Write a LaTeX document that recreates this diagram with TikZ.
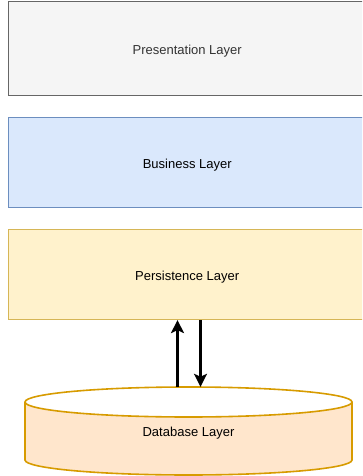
\documentclass[tikz,border=0pt]{standalone}
\usepackage{fontspec}
\setmainfont{Liberation Sans}
\usetikzlibrary{arrows.meta}
\definecolor{presFill}{HTML}{F5F5F5}
\definecolor{presLine}{HTML}{666666}
\definecolor{presText}{HTML}{333333}
\definecolor{busFill}{HTML}{DAE8FC}
\definecolor{busLine}{HTML}{6C8EBF}
\definecolor{perFill}{HTML}{FFF2CC}
\definecolor{perLine}{HTML}{D6B656}
\definecolor{dbFill}{HTML}{FFE6CC}
\definecolor{dbLine}{HTML}{D79B00}
\tikzset{
  label font/.style={font=\fontsize{13}{15}\selectfont, text height=12pt, text depth=0pt},
  layer/.style={draw, line width=1pt, minimum width=358pt, minimum height=90pt,
    inner sep=0pt, label font},
  flow/.style={line width=2.6pt, -{Stealth[length=13pt,width=13pt,inset=3pt]}},
}
\begin{document}
\begin{tikzpicture}[x=1pt,y=-1pt]
\useasboundingbox (0,0) rectangle (362,476);
\clip (0,0) rectangle (362,476);
% stacked layers
\node[layer, minimum height=94pt, fill=presFill, draw=presLine, text=presText] (pres) at (187.2,48.2) {Presentation Layer};
\node[layer, fill=busFill, draw=busLine] (bus) at (187.2,162.3) {Business Layer};
\node[layer, fill=perFill, draw=perLine] (per) at (187.2,274.6) {Persistence Layer};
% database cylinder
\fill[dbFill] (25,402) -- (25,460) arc[start angle=180, end angle=360, x radius=163.5, y radius=-15]
  -- (352,402) arc[start angle=0, end angle=180, x radius=163.5, y radius=15] -- cycle;
\draw[dbLine, line width=1.6pt] (25,402) -- (25,460) arc[start angle=180, end angle=360, x radius=163.5, y radius=-15]
  -- (352,402);
\draw[dbLine, line width=1.6pt] (188.5,402) ellipse[x radius=163.5, y radius=15];
\node[inner sep=0pt, minimum width=327pt, minimum height=88pt] (db) at (188.5,431) {};
\node[label font, inner sep=0pt] (dbtext) at (188.5,430.5) {Database Layer};
% read / write flows
\coordinate (upx) at (177.5,0);
\coordinate (downx) at (200.5,0);
\draw[flow] (db.north -| upx) -- (per.south -| upx);
\draw[flow] (per.south -| downx) -- (db.north -| downx);
\end{tikzpicture}
\end{document}
